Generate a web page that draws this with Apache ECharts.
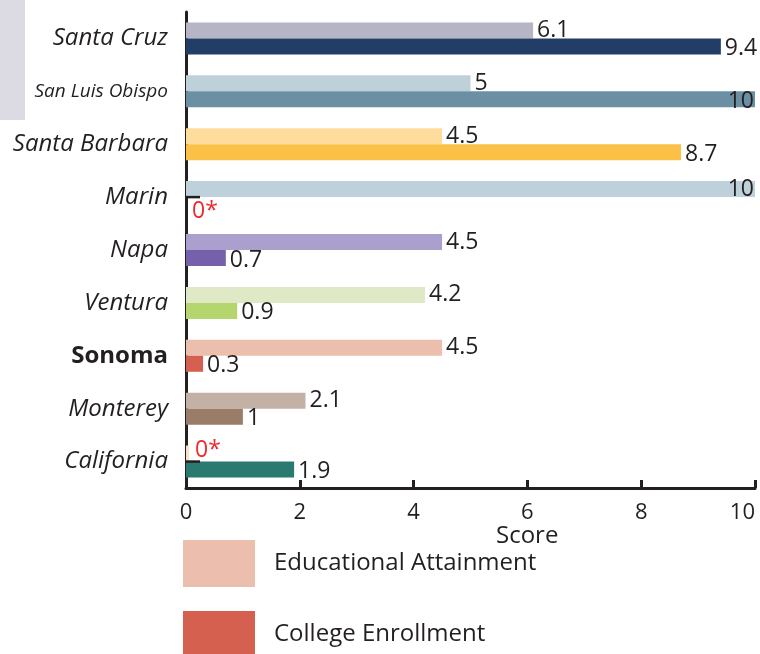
<!DOCTYPE html>
<html>
<head>
<meta charset="utf-8">
<script src="https://cdn.jsdelivr.net/npm/echarts@6/dist/echarts.min.js"></script>
<style>
  html, body { margin: 0; padding: 0; background: #fff; }
  #chart { width: 760px; height: 654px; }
</style>
</head>
<body>
<div id="chart"></div>
<script>
// Counties, top to bottom
const categories = ['Santa Cruz', 'San Luis Obispo', 'Santa Barbara', 'Marin', 'Napa', 'Ventura', 'Sonoma', 'Monterey', 'California'];
// Scores (0-10)
const attainment = [6.1, 5, 4.5, 10, 4.5, 4.2, 4.5, 2.1, 0];
const enrollment = [9.4, 10, 8.7, 0, 0.7, 0.9, 0.3, 1, 1.9];
// Per-county palette: light shade for attainment, dark shade for enrollment
const attainmentColors = ['#b5b5c6', '#bed1da', '#fddc9c', '#bed1da', '#ab9fcd', '#dfe9c6', '#ebbead', '#c3b1a5', '#fde0c3'];
const enrollmentColors = ['#223d66', '#6b8fa3', '#fac146', '#bed1da', '#7760aa', '#b5d56f', '#d66050', '#9a7d68', '#2a7a6f'];
const xTicks = [0, 2, 4, 6, 8, 10];

const FONT = '"Open Sans", "Noto Sans", sans-serif';
const INK = '#231f20';
const RED = '#ee2a2e';
const LABEL_SIZE = 23;

// dy: vertical nudge of the value label; zeroDy: nudge used for the "0*" note
function valueLabel(v, dy, zeroDy) {
  if (v === 0) {
    return { show: true, position: 'right', distance: 6, offset: [0, zeroDy], formatter: '0*', color: RED, fontSize: LABEL_SIZE, fontFamily: FONT };
  }
  if (v >= 10) {
    return { show: true, position: 'insideRight', distance: 1, offset: [0, dy], color: INK, fontSize: LABEL_SIZE, fontFamily: FONT };
  }
  return { show: true, position: 'right', distance: 4, offset: [0, dy], color: INK, fontSize: LABEL_SIZE, fontFamily: FONT };
}

// Counties with a zero score get a short baseline stub at the zero line
const zeroStubs = categories
  .map((c, i) => (attainment[i] === 0 || enrollment[i] === 0 ? [0, i] : null))
  .filter(d => d !== null);

const chart = echarts.init(document.getElementById('chart'), null, { renderer: 'canvas' });

chart.setOption({
  animation: false,
  backgroundColor: '#fff',
  grid: { left: 186, right: 5, top: 12, bottom: 166, containLabel: false, outerBoundsMode: 'none' },
  graphic: [
    { type: 'rect', left: 0, top: 0, shape: { width: 25, height: 120 }, style: { fill: '#dcdbe3' }, z: -1 },
    { type: 'text', left: 496, top: 524, style: { text: 'Score', font: '24px ' + FONT, fill: INK } }
  ],
  legend: {
    orient: 'vertical',
    left: 183,
    top: 540,
    height: 140,
    padding: 0,
    itemWidth: 72,
    itemHeight: 47,
    itemGap: 24,
    icon: 'rect',
    textStyle: { fontFamily: FONT, fontSize: 24, color: INK, padding: [4, 0, 0, 14] },
    data: ['Educational Attainment', 'College Enrollment']
  },
  xAxis: {
    type: 'value',
    min: 0,
    max: 10,
    interval: 2,
    axisLine: { show: true, onZero: false, lineStyle: { color: INK, width: 3 } },
    axisTick: { show: true, inside: true, length: 8, lineStyle: { color: INK, width: 3 } },
    splitLine: { show: false },
    axisLabel: {
      margin: 14,
      fontSize: 22,
      fontFamily: FONT,
      color: INK,
      alignMaxLabel: 'right',
      formatter: v => (xTicks.includes(v) ? String(v) : '')
    }
  },
  yAxis: {
    type: 'category',
    inverse: true,
    data: categories,
    axisLine: { show: true, lineStyle: { color: INK, width: 3 } },
    axisTick: { show: false },
    axisLabel: {
      margin: 18,
      color: INK,
      formatter: v => v === 'Sonoma' ? '{b|' + v + '}' : (v === 'San Luis Obispo' ? '{s|' + v + '}' : '{i|' + v + '}'),
      rich: {
        i: { fontFamily: FONT, fontStyle: 'italic', fontSize: 24, color: INK },
        s: { fontFamily: FONT, fontStyle: 'italic', fontSize: 19, color: INK },
        b: { fontFamily: FONT, fontWeight: 'bold', fontSize: 24, color: INK }
      }
    }
  },
  series: [
    {
      name: 'Educational Attainment',
      type: 'bar',
      barWidth: 16,
      barGap: '0%',
      barMinHeight: 3,
      itemStyle: { color: '#ebbead' },
      data: attainment.map((v, i) => ({ value: v, itemStyle: { color: attainmentColors[i] }, label: valueLabel(v, 0, -3) }))
    },
    {
      name: 'College Enrollment',
      type: 'bar',
      barWidth: 16,
      barGap: '0%',
      itemStyle: { color: '#d66050' },
      data: enrollment.map((v, i) => ({ value: v, itemStyle: { color: enrollmentColors[i] }, label: valueLabel(v, 2, 6) }))
    },
    {
      name: 'zero-stub',
      type: 'custom',
      silent: true,
      z: 5,
      data: zeroStubs,
      renderItem: (params, api) => {
        const p = api.coord([api.value(0), api.value(1)]);
        return {
          type: 'line',
          shape: { x1: p[0], y1: p[1], x2: p[0] + 14, y2: p[1] },
          style: { stroke: INK, lineWidth: 2.5 }
        };
      }
    }
  ]
});
</script>
</body>
</html>
